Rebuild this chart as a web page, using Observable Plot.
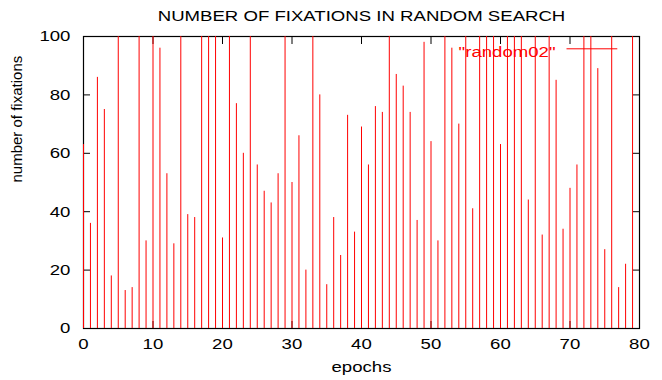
<!DOCTYPE html>
<html>
<head>
<meta charset="utf-8">
<script src="https://cdn.jsdelivr.net/npm/d3@7"></script>
<script src="https://cdn.jsdelivr.net/npm/@observablehq/plot@0.6"></script>
<style>
  html, body { margin: 0; padding: 0; background: #fff; }
  svg { display: block; }
</style>
</head>
<body>
<div id="chart"></div>
<script>
const epochs = d3.range(0, 80);
const fixations = [
  63, 36, 86, 75, 18, 100, 13, 14, 100, 30,
  100, 96, 53, 29, 100, 39, 38, 100, 100, 100,
  31, 100, 77, 60, 100, 56, 47, 43, 53, 100,
  50, 66, 20, 100, 80, 15, 38, 25, 73, 33,
  69, 56, 76, 74, 100, 87, 83, 74, 37, 98,
  64, 30, 100, 96, 70, 100, 41, 100, 100, 100,
  63, 100, 100, 100, 44, 100, 32, 100, 85, 34,
  48, 56, 100, 100, 89, 27, 100, 14, 22, 100
];
const xTicks = [0, 10, 20, 30, 40, 50, 60, 70, 80];
const yTicks = [0, 20, 40, 60, 80, 100];
const title = "NUMBER OF FIXATIONS IN RANDOM SEARCH";
const xLabel = "epochs";
const yLabel = "number of fixations";
const seriesName = "\"random02\"";

const data = epochs.map((e, i) => ({epoch: e, value: fixations[i]}));
const font = "'Liberation Sans', Arial, Helvetica, sans-serif";
const fs = 15.5;
const stretch = 1.2;

const lineShape = {
  draw(context, l) { context.moveTo(0, 0); context.lineTo(0, -l); }
};

const chart = Plot.plot({
  width: 662,
  height: 380,
  marginLeft: 83,
  marginRight: 23,
  marginTop: 36,
  marginBottom: 52,
  style: {fontFamily: font, fontSize: fs + "px", color: "#000", background: "#fff"},
  x: {domain: [0, 80]},
  y: {domain: [0, 100]},
  marks: [
    Plot.frame({stroke: "#000", strokeWidth: 1.2}),
    Plot.axisX({ticks: xTicks, tickSize: -7, fill: "none", label: null, stroke: "#000"}),
    Plot.axisX({anchor: "top", ticks: xTicks, tickSize: -7, fill: "none", label: null, stroke: "#000"}),
    Plot.axisY({ticks: yTicks, tickSize: -7, fill: "none", label: null, stroke: "#000"}),
    Plot.axisY({anchor: "right", ticks: yTicks, tickSize: -7, fill: "none", label: null, stroke: "#000"}),
    Plot.ruleX(data, {x: "epoch", y1: 0, y2: "value", stroke: "#ff0000", strokeWidth: 1}),
    Plot.axisX({ticks: xTicks, tickSize: 0, tickPadding: 9, label: null, tickFormat: d => d, fontSize: fs}),
    Plot.axisY({ticks: yTicks, tickSize: 0, tickPadding: 13, label: null, tickFormat: d => d, fontSize: fs}),
    Plot.text([title], {frameAnchor: "top", dy: -27, text: d => d, fontSize: fs, fill: "#000"}),
    Plot.text([xLabel], {frameAnchor: "bottom", dy: 43, text: d => d, fontSize: fs, fill: "#000"}),
    Plot.text([yLabel], {frameAnchor: "left", dx: -66, rotate: -90, text: d => d, fontSize: 15, fill: "#000"}),
    Plot.text([seriesName], {frameAnchor: "top-right", dx: -84, dy: 9, textAnchor: "end", text: d => d, fontSize: fs, fill: "#ff0000"}),
    Plot.vector([seriesName], {frameAnchor: "top-right", dx: -72.6, dy: 12.3, length: 50, rotate: 90, anchor: "start", shape: lineShape, stroke: "#ff0000", strokeWidth: 1})
  ]
});
document.getElementById("chart").appendChild(chart);

// Widen the horizontal text glyphs (the reference's lettering is stretched horizontally)
chart.querySelectorAll("text").forEach(t => {
  const tr = t.getAttribute("transform") || "";
  if (/rotate/.test(tr)) return;
  const bb = t.getBBox();
  const anchor = getComputedStyle(t).textAnchor;
  const ax = anchor === "end" ? bb.x + bb.width : anchor === "middle" ? bb.x + bb.width / 2 : bb.x;
  t.setAttribute("transform", `${tr} translate(${ax},0) scale(${stretch},1) translate(${-ax},0)`);
});
</script>
</body>
</html>
